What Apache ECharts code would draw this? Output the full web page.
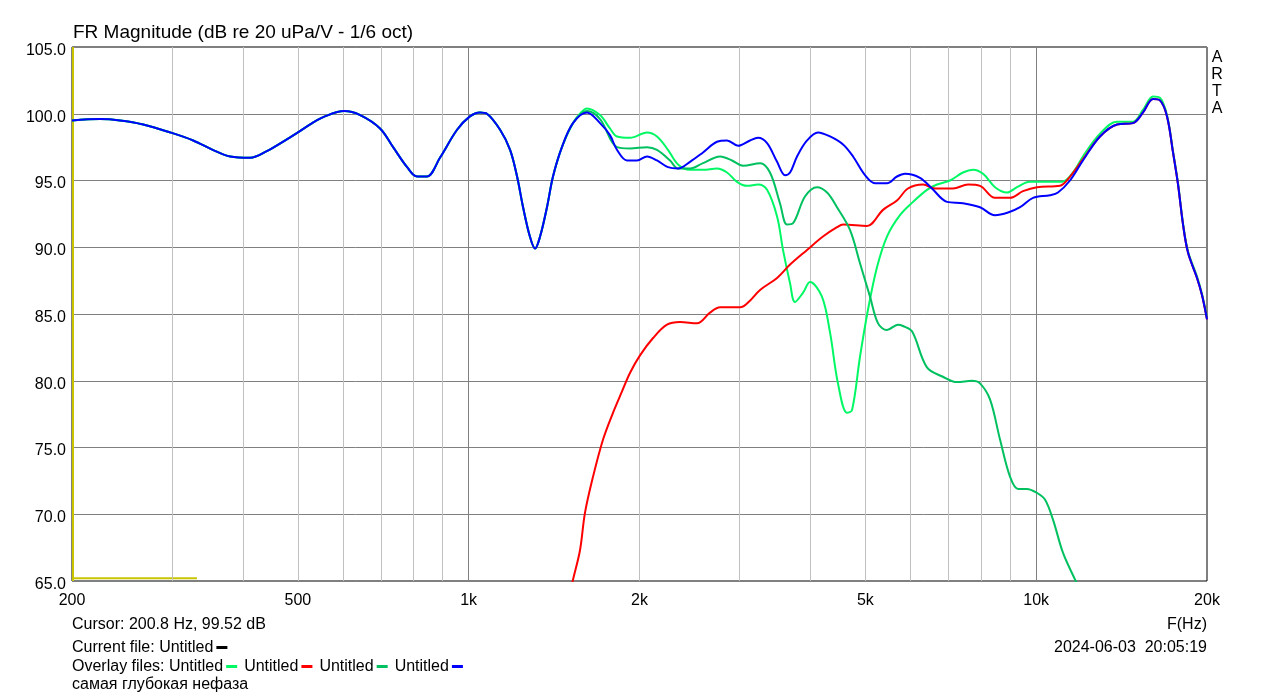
<!DOCTYPE html>
<html>
<head>
<meta charset="utf-8">
<script src="https://cdn.jsdelivr.net/npm/echarts@6/dist/echarts.min.js"></script>
<style>
html,body{margin:0;padding:0;background:#fff;}
#c{width:1279px;height:699px;}
</style>
</head>
<body>
<div id="c"></div>
<script>
// ---- Data (frequency in Hz, level in dB) ----
// shared low-frequency part (all woofer-including curves coincide)
const lfFreq = [200, 224, 243, 267, 298, 327, 354, 380, 412, 441, 479, 500, 530, 558, 603, 644, 698, 736, 779, 811, 844, 890, 954, 1005, 1047, 1077, 1136, 1183, 1217, 1247, 1282, 1309, 1336, 1374, 1408, 1460, 1527];
const lfDb   = [99.5, 99.6, 99.5, 99.2, 98.6, 98.0, 97.3, 96.8, 96.7, 97.2, 98.1, 98.6, 99.3, 99.8, 100.2, 99.9, 98.9, 97.5, 96.0, 95.3, 95.3, 96.7, 98.8, 99.8, 100.1, 100.0, 98.8, 97.3, 95.3, 93.0, 90.8, 89.9, 90.8, 93.0, 95.3, 97.5, 99.3];

// blue curve mid part
const blueMidFreq = [1616, 1704, 1774, 1825, 1901, 1980, 2062, 2147, 2245, 2338, 2455, 2588, 2739, 2853, 2984, 3131, 3235, 3356, 3495, 3610, 3684, 3790, 3947, 4127, 4333, 4568, 4757, 4994, 5200, 5459, 5685, 5872, 6241, 6552, 6966, 7431, 7962, 8461, 8922, 9368, 9874, 10578, 10925, 11471, 12090];
const blueMidDb   = [100.1, 99.3, 98.4, 97.3, 96.5, 96.5, 96.8, 96.5, 96.0, 95.9, 96.4, 97.1, 97.9, 98.0, 97.6, 98.0, 98.2, 97.8, 96.4, 95.4, 95.6, 96.8, 98.0, 98.6, 98.3, 97.7, 96.8, 95.4, 94.8, 94.8, 95.3, 95.5, 95.2, 94.4, 93.4, 93.3, 93.0, 92.4, 92.6, 93.0, 93.7, 93.9, 94.1, 95.0, 96.5];

// shared high-frequency part
const hfFreq = [12956, 13880, 14813, 15428, 16068, 16522, 17004, 17424, 17782, 18146, 18516, 19206, 19600, 20000];
const hfDb   = [98.3, 99.2, 99.3, 100.1, 101.1, 101.0, 99.8, 97.1, 94.7, 91.7, 89.6, 87.7, 86.4, 84.6];
const lightHfDb = [98.5, 99.4, 99.4, 100.3, 101.3, 101.2, 99.9, 97.2, 94.8, 91.8, 89.7, 87.8, 86.5, 84.7];

// light green curve mid part
const lightMidFreq = [1571, 1616, 1704, 1774, 1825, 1925, 2062, 2147, 2245, 2338, 2455, 2588, 2739, 2853, 2970, 3094, 3235, 3356, 3495, 3580, 3684, 3758, 3884, 3994, 4193, 4333, 4475, 4642, 4737, 4893, 5053, 5242, 5459, 5754, 6069, 6421, 6688, 7050, 7431, 7740, 8062, 8461, 8885, 9252, 9751, 10280, 11106, 11611, 12090];
const lightMidDb   = [100.0, 100.4, 99.9, 98.9, 98.3, 98.2, 98.6, 98.3, 97.3, 96.2, 95.8, 95.8, 95.9, 95.6, 94.9, 94.6, 94.7, 94.3, 92.3, 89.8, 87.3, 85.9, 86.6, 87.4, 86.3, 83.6, 79.8, 77.6, 77.8, 81.8, 85.3, 88.5, 90.8, 92.4, 93.4, 94.3, 94.7, 95.0, 95.6, 95.8, 95.5, 94.5, 94.1, 94.5, 94.9, 94.9, 94.9, 95.6, 96.8];

// dark green curve mid part
const darkMidFreq = [1616, 1704, 1825, 1925, 2062, 2147, 2264, 2338, 2455, 2588, 2774, 2911, 3044, 3262, 3396, 3536, 3639, 3729, 3914, 4110, 4281, 4457, 4698, 4893, 5096, 5265, 5459, 5708, 5826, 6043, 6421, 6851, 7254, 7708, 7962, 8292, 8636, 8996, 9290, 9634, 10032, 10363, 10706, 11152, 11709, 12190];
const darkMidDb   = [100.2, 99.6, 97.5, 97.4, 97.5, 97.3, 96.5, 95.9, 95.9, 96.3, 96.8, 96.5, 96.1, 96.3, 95.6, 93.3, 91.7, 91.8, 93.8, 94.5, 94.1, 93.0, 91.3, 88.8, 86.3, 84.3, 83.8, 84.2, 84.1, 83.7, 81.0, 80.3, 79.9, 80.0, 79.8, 78.6, 75.6, 72.8, 71.9, 71.9, 71.6, 71.1, 69.6, 67.1, 65.1, 63.5];

// red curve (tweeter)
const redFreq = [1496, 1527, 1571, 1603, 1656, 1725, 1796, 1863, 1925, 2004, 2113, 2236, 2358, 2526, 2662, 2774, 3008, 3131, 3262, 3495, 3684, 3947, 4211, 4457, 4568, 5034, 5372, 5685, 5944, 6320, 6634, 7136, 7586, 7962, 8461, 8996, 9480, 10032, 11015, 11378, 12090];
const redDb   = [63.5, 65.1, 67.3, 70.1, 72.8, 75.6, 77.6, 79.2, 80.6, 81.9, 83.2, 84.2, 84.4, 84.3, 85.1, 85.5, 85.5, 86.0, 86.8, 87.7, 88.7, 89.8, 90.8, 91.5, 91.7, 91.6, 92.8, 93.5, 94.4, 94.7, 94.4, 94.4, 94.7, 94.6, 93.7, 93.7, 94.2, 94.5, 94.6, 95.1, 96.6];

// yellow marker line
const yellowFreq = [200, 332];
const yellowDb = [65.2, 65.2];
const cursorFreq = 200.8;

// axes
const xTickValues = [200, 500, 1000, 2000, 5000, 10000, 20000];
const xTickLabels = ['200', '500', '1k', '2k', '5k', '10k', '20k'];
const minorGridFreqs = [300, 400, 500, 600, 700, 800, 900, 2000, 3000, 4000, 5000, 6000, 7000, 8000, 9000];
const decadeGridFreqs = [1000, 10000];

const pairs = (f, d) => f.map((x, i) => [x, d[i]]);
const FONT = '"Liberation Sans", Arial, sans-serif';

const lightData = pairs(lfFreq.concat(lightMidFreq, hfFreq), lfDb.concat(lightMidDb, lightHfDb));
const redData = pairs(redFreq.concat(hfFreq), redDb.concat(hfDb));
const darkData = pairs(lfFreq.concat(darkMidFreq), lfDb.concat(darkMidDb));
const blueData = pairs(lfFreq.concat(blueMidFreq, hfFreq), lfDb.concat(blueMidDb, hfDb));

const C_LIGHT = '#00f864', C_DARK = '#00c060', C_RED = '#ff0000', C_BLUE = '#0000ff', C_YEL = '#c8c400';

function curve(name, data, color) {
  return {
    name, type: 'line', data, showSymbol: false, symbol: 'none',
    smooth: 0.35, clip: true, z: 5,
    lineStyle: { color, width: 2 }, silent: true
  };
}

const gridLines = minorGridFreqs.map(v => ({ xAxis: v, lineStyle: { color: '#c0c0c0', width: 1, type: 'solid' } }))
  .concat(decadeGridFreqs.map(v => ({ xAxis: v, lineStyle: { color: '#808080', width: 1, type: 'solid' } })));

const chart = echarts.init(document.getElementById('c'), null, { renderer: 'canvas' });
chart.setOption({
  animation: false,
  backgroundColor: '#fff',
  textStyle: { fontFamily: FONT },
  grid: { left: 72, right: 72, top: 47, bottom: 118, show: true, borderColor: '#000', borderWidth: 1, backgroundColor: 'transparent', containLabel: false, outerBoundsMode: 'none' },
  xAxis: {
    type: 'log', logBase: 10, min: 200, max: 20000,
    axisLine: { show: false }, axisTick: { show: false },
    splitLine: { show: false }, minorTick: { show: false }, minorSplitLine: { show: false },
    axisLabel: {
      customValues: xTickValues,
      formatter: v => { const i = xTickValues.findIndex(t => Math.abs(t - v) < 1e-6 * t); return i >= 0 ? xTickLabels[i] : ''; },
      color: '#000', fontSize: 16, fontFamily: FONT, margin: 12, showMinLabel: true, showMaxLabel: true
    }
  },
  yAxis: {
    type: 'value', min: 65, max: 105, interval: 5,
    axisLine: { show: false }, axisTick: { show: false },
    splitLine: { show: true, lineStyle: { color: '#808080', width: 1 } },
    axisLabel: { formatter: v => v.toFixed(1), color: '#000', fontSize: 16, fontFamily: FONT, margin: 6, verticalAlign: 'top', lineHeight: 7 }
  },
  series: [
    {
      name: 'grid', type: 'line', data: [[200, 65]], symbol: 'none', lineStyle: { opacity: 0 }, z: 1, silent: true,
      markLine: { silent: true, symbol: ['none', 'none'], label: { show: false }, animation: false, data: gridLines }
    },
    {
      name: 'yellow', type: 'line', data: pairs(yellowFreq, yellowDb), symbol: 'none', z: 4, silent: true,
      lineStyle: { color: C_YEL, width: 2 },
      markLine: { silent: true, symbol: ['none', 'none'], label: { show: false }, animation: false,
        data: [{ xAxis: cursorFreq, lineStyle: { color: C_YEL, width: 2, type: 'solid' } }] }
    },
    curve('Untitled 1', lightData, C_LIGHT),
    curve('Untitled 2', redData, C_RED),
    curve('Untitled 3', darkData, C_DARK),
    curve('Untitled 4', blueData, C_BLUE)
  ],
  graphic: [
    { type: 'text', x: 73, y: 33, style: { text: 'FR Magnitude (dB re 20 uPa/V - 1/6 oct)', font: '19px ' + FONT, fill: '#000', textAlign: 'left', textVerticalAlign: 'middle' } },
    { type: 'text', x: 1217, y: 48.5, style: { text: 'A\nR\nT\nA', font: '16px ' + FONT, fill: '#000', textAlign: 'center', textVerticalAlign: 'top', lineHeight: 17.3 } },
    { type: 'text', x: 72, y: 624.5, style: { text: 'Cursor: 200.8 Hz, 99.52 dB', font: '16px ' + FONT, fill: '#000', textAlign: 'left', textVerticalAlign: 'middle' } },
    { type: 'text', x: 72, y: 647.5, style: {
      text: 'Current file: Untitled{g2| }{k| }', font: '16px ' + FONT, fill: '#000', textAlign: 'left', textVerticalAlign: 'middle',
      rich: { g2: { width: 3 }, k: { width: 11, height: 3, backgroundColor: '#000' } } } },
    { type: 'text', x: 72, y: 666.5, style: {
      text: 'Overlay files: Untitled{g2| }{a| }{g9| }Untitled{g2| }{b| }{g9| }Untitled{g2| }{c| }{g9| }Untitled{g2| }{d| }',
      font: '16px ' + FONT, fill: '#000', textAlign: 'left', textVerticalAlign: 'middle',
      rich: {
        g2: { width: 3 }, g9: { width: 7 },
        a: { width: 11, height: 3, backgroundColor: C_LIGHT },
        b: { width: 11, height: 3, backgroundColor: C_RED },
        c: { width: 11, height: 3, backgroundColor: C_DARK },
        d: { width: 11, height: 3, backgroundColor: C_BLUE }
      } } },
    { type: 'text', x: 72, y: 684.5, style: { text: 'самая глубокая нефаза', font: '16px ' + FONT, fill: '#000', textAlign: 'left', textVerticalAlign: 'middle' } },
    { type: 'text', x: 1207, y: 624.5, style: { text: 'F(Hz)', font: '16px ' + FONT, fill: '#000', textAlign: 'right', textVerticalAlign: 'middle' } },
    { type: 'text', x: 1207, y: 647.5, style: { text: '2024-06-03  20:05:19', font: '16px ' + FONT, fill: '#000', textAlign: 'right', textVerticalAlign: 'middle' } }
  ]
});
</script>
</body>
</html>
